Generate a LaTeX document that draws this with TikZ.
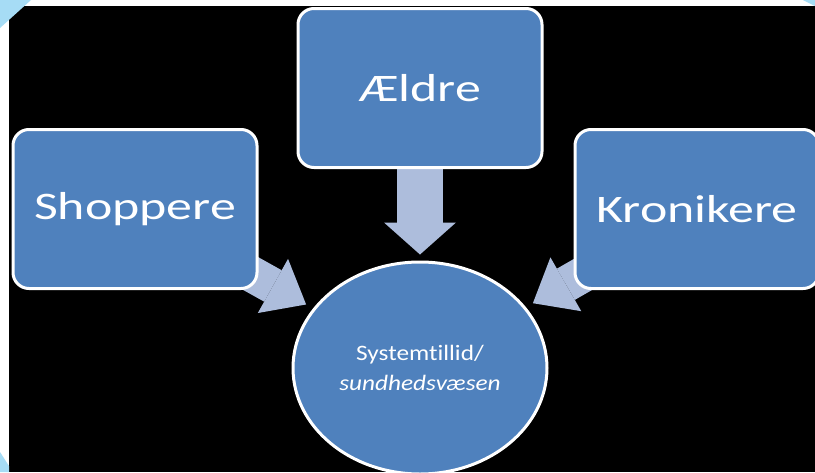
\documentclass[tikz,border=0pt]{standalone}
\usepackage{fontspec}
\setmainfont{Carlito}
\newfontfamily\boxfont[FakeStretch=1.33]{Carlito}
\newfontfamily\circfont[FakeStretch=1.15,Ligatures=NoCommon]{Carlito}
\usepackage{tikz}
\usetikzlibrary{shapes.geometric,arrows.meta}

\definecolor{boxblue}{RGB}{79,129,189}
\definecolor{flowblue}{RGB}{173,189,220}
\definecolor{cornerblue}{RGB}{166,220,245}

\pgfdeclarelayer{bg}
\pgfdeclarelayer{mid}
\pgfsetlayers{bg,mid,main}

\tikzset{
  group/.style={draw=white, line width=3pt, fill=boxblue, rounded corners=16pt,
    minimum width=244pt, minimum height=159pt, text=white,
    font=\boxfont\fontsize{39}{47}\selectfont},
  focus/.style={ellipse, draw=white, line width=3pt, fill=boxblue,
    minimum width=254pt, minimum height=212pt, text=white, align=center,
    font=\circfont\fontsize{22}{30}\selectfont},
  flow/.style={draw=flowblue}
}

\begin{document}
\begin{tikzpicture}[x=1pt,y=-1pt]

\useasboundingbox (0,0) rectangle (815,472);

% frame
\begin{pgfonlayer}{bg}
\fill[white] (0,0) rectangle (815,472);
\fill[black] (9,6) rectangle (815,472);
\fill[cornerblue] (0,0) -- (31,0) -- (0,28) -- cycle;
\fill[cornerblue] (803,0) -- (815,0) -- (815,6) -- cycle;
\fill[cornerblue] (0,452) -- (9,466) -- (9,472) -- (0,472) -- cycle;
\end{pgfonlayer}

% the three groups
\node[group] (aeldre) at (420,88) {Ældre};
\node[group] (shoppere) at (135,209) {Shoppere};
\node[group] (kronikere) at (697,209) {Kronikere};

% centre
\node[focus] (tillid) at (420,368) {Systemtillid/\\\textit{sundhedsvæsen}};

% arrows, behind the boxes
\begin{pgfonlayer}{mid}
\draw[flow, line width=46pt, -{Triangle[length=32pt,width=72pt,line width=0pt]},
  shorten >=6pt] (aeldre.center) -- (tillid);
\draw[flow, line width=36pt, -{Triangle[length=38pt,width=62pt,line width=0pt]},
  shorten >=8pt] (shoppere.center) -- (tillid);
\draw[flow, line width=36pt, -{Triangle[length=38pt,width=62pt,line width=0pt]},
  shorten >=8pt] (kronikere.center) -- (tillid);
\end{pgfonlayer}

\end{tikzpicture}
\end{document}
